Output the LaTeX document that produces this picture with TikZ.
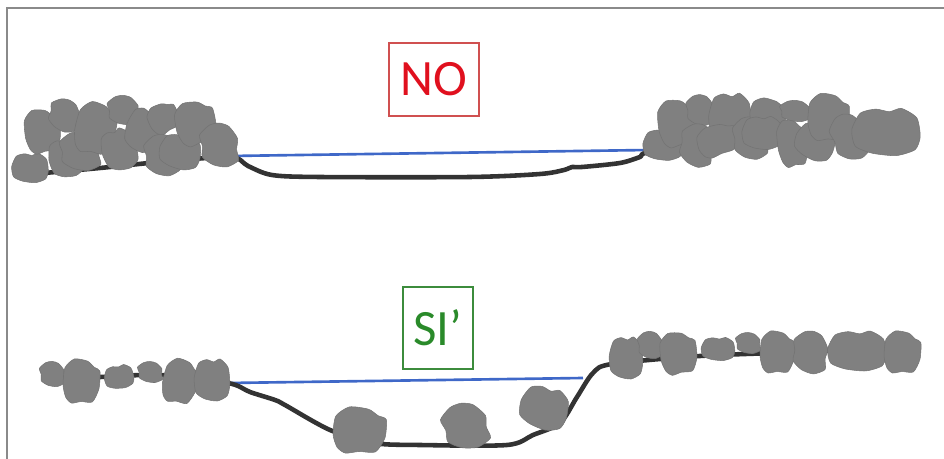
\documentclass[tikz,border=0pt]{standalone}
\usepackage{fontspec}
\usepackage{tikz}
\newfontfamily\labelfont{Carlito}
\definecolor{rockgray}{HTML}{808080}
\definecolor{rockedge}{HTML}{737373}
\definecolor{groundcol}{HTML}{333333}
\definecolor{watercol}{HTML}{3F68C8}
\definecolor{nored}{HTML}{E0101E}
\definecolor{noredbox}{HTML}{D05050}
\definecolor{sigreen}{HTML}{2A8A2A}
\definecolor{sigreenbox}{HTML}{3C8C3C}
\definecolor{framecol}{HTML}{8A8A8A}

\tikzset{
  rockA/.pic={\fill[rockgray, draw=rockedge, line width=0.3pt] plot[smooth cycle, tension=0.4] coordinates {(-1,-0.1) (-0.75,-0.8) (-0.3,-0.97) (0.1,-0.86) (0.45,-1) (0.9,-0.6) (1,0.2) (0.85,0.75) (0.3,1) (-0.4,0.9) (-0.9,0.6)};},
  rockB/.pic={\fill[rockgray, draw=rockedge, line width=0.3pt] plot[smooth cycle, tension=0.4] coordinates {(-0.95,0.2) (-0.85,-0.6) (-0.35,-1) (0.35,-0.9) (0.7,-0.62) (1,-0.45) (0.95,0.35) (0.6,0.95) (0,0.93) (-0.5,1) (-0.8,0.75)};},
  rockC/.pic={\fill[rockgray, draw=rockedge, line width=0.3pt] plot[smooth cycle, tension=0.4] coordinates {(-1,-0.45) (-0.5,-0.9) (0,-1) (0.5,-0.85) (0.95,-0.3) (0.9,0.2) (1,0.7) (0.4,1) (-0.3,0.9) (-0.85,0.55) (-0.85,0.05)};}
}

\begin{document}
\begin{tikzpicture}[x=0.02cm, y=-0.02cm]
			\useasboundingbox (0,0) rectangle (944,459);
			\draw[framecol, line width=1.1pt] (7,459) -- (7,8) -- (944,8);

			\begin{scope}[every node/.style={draw, line width=0.6pt, inner sep=0pt, font=\labelfont\fontsize{29pt}{34pt}\selectfont}]
				\node[draw=noredbox, text=nored, minimum width=1.8cm, minimum height=1.46cm] (no) at (434,79.5) {NO};
				\node[draw=sigreenbox, text=sigreen, minimum width=1.4cm, minimum height=1.64cm] (si) at (438,328) {SI’};
			\end{scope}

			\begin{scope}[water/.style={draw=watercol, line width=1.5pt}, ground/.style={draw=groundcol, line width=2.6pt, line cap=round, line join=round}]
				\draw[water] (230,156) -- (648,150);
				\draw[ground] plot[smooth, tension=0.5] coordinates {(33,174) (100,168) (160,162) (230,157) (248,166) (272,175) (320,177) (470,177) (540,174) (564,170) (572,167) (582,167) (620,163) (640,157) (652,152) (760,143) (915,133)};
				\draw[water] (228,383) -- (583,378);
				\draw[ground] plot[smooth, tension=0.5] coordinates {(45,378) (100,377) (160,375) (228,383) (250,392) (275,400) (285,405) (330,430) (373,443) (420,445) (507,445) (533,435) (560,423) (577,397) (593,373) (612,364) (700,356) (800,352) (889,347) (905,346)};
			\end{scope}

			\foreach \x/\y/\w/\h/\r/\s in {30/168/15/12/0/A, 42/131/15/18/10/B, 64/115/13/13/-20/C, 66/158/14/16/15/A, 80/151/17/16/0/C, 95/128/17/21/-10/B, 119/150/14/17/20/A, 123/110/13/12/0/C, 143/130/14/18/-15/A, 163/118/13/12/30/B, 162/155/15/17/0/C, 180/152/17/14/-10/A, 195/123/17/18/15/B, 219/145/16/18/0/C}
				\pic[rotate=\r, xscale=\w, yscale=\h, scale=1.22] at (\x,\y) {rock\s};

			\foreach \x/\y/\w/\h/\r/\s in {663/145/17/13/0/A, 677/123/17/20/10/B, 700/110/12/13/0/C, 697/145/15/18/-15/C, 730/118/18/21/0/A, 717/140/18/13/20/B, 750/138/15/18/0/C, 768/113/16/12/-10/B, 762/133/17/14/0/A, 795/111/13/9/0/C, 792/143/13/20/10/B, 815/142/17/15/-20/A, 828/117/18/20/0/B, 849/137/15/20/15/C, 886/132/29/20/0/A}
				\pic[rotate=\r, xscale=\w, yscale=\h, scale=1.18] at (\x,\y) {rock\s};

			\foreach \x/\y/\w/\h/\r/\s in {52/374/12/12/0/C, 81/381/18/21/0/B, 119/377/14/11/10/A, 150/372/12/10/0/C, 180/381/17/21/-10/B, 212/380/17/20/0/A, 359/430/26/22/0/B, 465/426/22/22/10/C, 544/408/23/20/-15/A, 626/358/16/20/0/A, 650/345/12/13/0/C, 678/353/18/20/10/B, 718/349/16/11/0/A, 748/343/12/10/0/C, 777/352/17/20/0/B, 810/352/17/20/-10/C, 857/351/28/19/0/A, 902/352/18/20/0/B}
				\pic[rotate=\r, xscale=\w, yscale=\h, scale=1.05] at (\x,\y) {rock\s};
		\end{tikzpicture}
\end{document}
